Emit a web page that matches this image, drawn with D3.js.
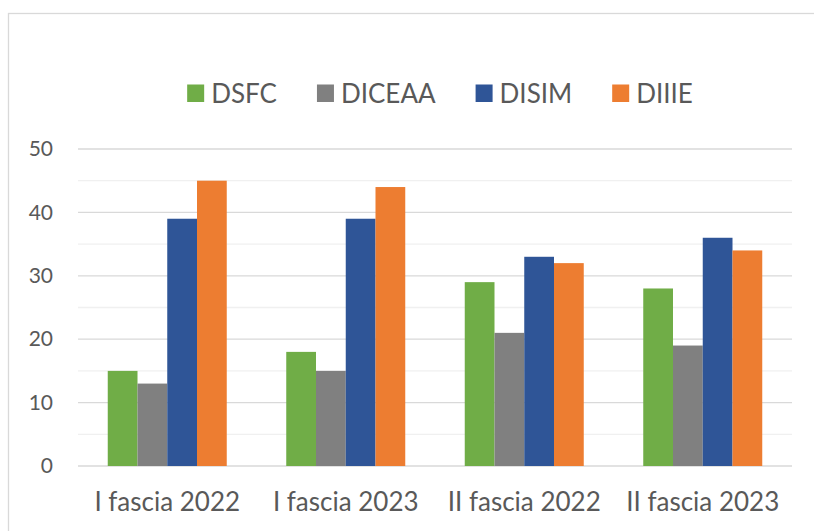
<!DOCTYPE html>
<html><head><meta charset="utf-8">
<script src="https://cdn.jsdelivr.net/npm/d3@7"></script>
<style>body{margin:0;background:#fff;}svg{display:block;font-family:Lato,"Open Sans",sans-serif;}</style>
</head><body>
<svg id="chart" width="814" height="531"></svg>
<script>
const categories = ["I fascia 2022", "I fascia 2023", "II fascia 2022", "II fascia 2023"];
const seriesNames = ["DSFC", "DICEAA", "DISIM", "DIIIE"];
const seriesColors = ["#70ad47", "#808080", "#2f5597", "#ed7d31"];
const DSFC = [15, 18, 29, 28];
const DICEAA = [13, 15, 21, 19];
const DISIM = [39, 39, 33, 36];
const DIIIE = [45, 44, 32, 34];
const yTicks = [0, 10, 20, 30, 40, 50];
const yMinor = [5, 15, 25, 35, 45];

const seriesValues = [DSFC, DICEAA, DISIM, DIIIE];
const svg = d3.select("#chart");
const W = 814, H = 531;
const m = {left: 78, right: 22, top: 149, bottom: 65};
const x0 = d3.scaleBand().domain(categories).range([m.left, W - m.right]).paddingInner(0).paddingOuter(0);
const x1 = d3.scaleBand().domain(seriesNames).range([0, x0.bandwidth()]).paddingOuter(1).paddingInner(0);
const y = d3.scaleLinear().domain([0, 50]).range([H - m.bottom, m.top]);

// frame
svg.append("rect").attr("x", 8.5).attr("y", 13.5).attr("width", 830).attr("height", 540)
  .attr("fill", "none").attr("stroke", "#d9d9d9").attr("stroke-width", 1.3);

// minor grid
svg.append("g").selectAll("line").data(yMinor).join("line")
  .attr("x1", m.left).attr("x2", W - m.right)
  .attr("y1", d => y(d)).attr("y2", d => y(d))
  .attr("stroke", "#f0f0f0").attr("stroke-width", 1.3);
// major grid
svg.append("g").selectAll("line").data(yTicks).join("line")
  .attr("x1", m.left).attr("x2", W - m.right)
  .attr("y1", d => y(d)).attr("y2", d => y(d))
  .attr("stroke", "#d9d9d9").attr("stroke-width", 1.3);

// y axis labels
const yAxis = d3.axisLeft(y).tickValues(yTicks).tickSize(0).tickPadding(25);
const gy = svg.append("g").attr("transform", `translate(${m.left},0)`).call(yAxis);
gy.select(".domain").remove();
gy.selectAll("text").attr("font-size", 21).attr("fill", "#595959").attr("font-family", "Lato,'Open Sans',sans-serif");

// bars
const groups = svg.append("g").selectAll("g").data(categories).join("g")
  .attr("transform", d => `translate(${x0(d)},0)`);
groups.selectAll("rect").data((c, ci) => seriesNames.map((s, si) => ({s, si, v: seriesValues[si][ci]})))
  .join("rect")
  .attr("x", d => x1(d.s)).attr("width", x1.bandwidth())
  .attr("y", d => y(d.v)).attr("height", d => y(0) - y(d.v))
  .attr("fill", d => seriesColors[d.si]);

// x axis labels
const xAxis = d3.axisBottom(x0).tickSize(0).tickPadding(27);
const gx = svg.append("g").attr("transform", `translate(0,${y(0)})`).call(xAxis);
gx.select(".domain").remove();
gx.selectAll("text").attr("font-size", 26).attr("fill", "#595959").attr("font-family", "Lato,'Open Sans',sans-serif");

// legend
const leg = svg.append("g");
let cx = 0;
seriesNames.forEach((s, i) => {
  const g = leg.append("g");
  g.append("rect").attr("x", 0).attr("y", -17.5).attr("width", 17).attr("height", 17.5).attr("fill", seriesColors[i]);
  const t = g.append("text").attr("x", 24).attr("y", 1).attr("font-size", 26).attr("fill", "#595959").text(s);
  const w = 24 + t.node().getComputedTextLength();
  g.attr("transform", `translate(${cx},0)`);
  cx += w + 40;
});
const total = cx - 40;
leg.attr("transform", `translate(${440 - total / 2},102)`);
</script>
</body></html>
